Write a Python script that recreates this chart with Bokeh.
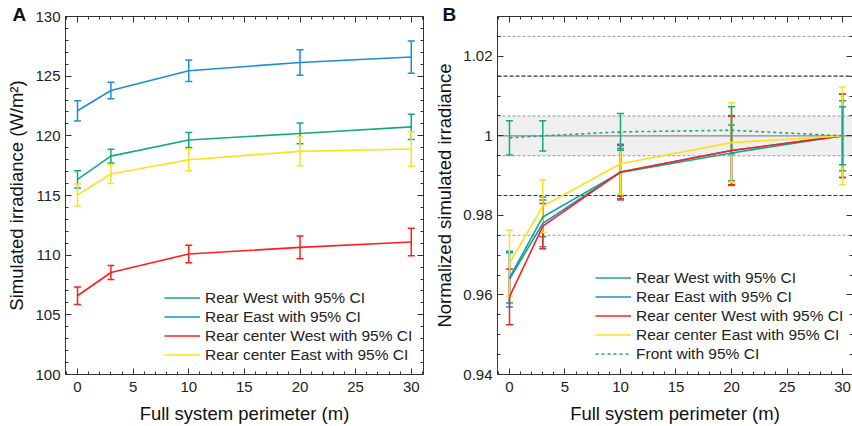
from bokeh.plotting import figure
from bokeh.models import (Range1d, LinearAxis, SingleIntervalTicker, Whisker, TeeHead,
                          ColumnDataSource, Legend, LegendItem, Span, BoxAnnotation, Title,
                          CustomJSTickFormatter)
from bokeh.layouts import row
from bokeh.embed import file_html
from bokeh.resources import INLINE

# ---------------- data ----------------
perimeter = [0, 3, 10, 20, 30]

# Panel A: simulated irradiance (W/m2) and 95% CI half-widths
rear_west = [116.35, 118.3, 119.65, 120.2, 120.75]
rear_west_ci = [0.72, 0.57, 0.62, 0.87, 1.05]
rear_east = [122.1, 123.8, 125.45, 126.15, 126.6]
rear_east_ci = [0.85, 0.7, 0.9, 1.07, 1.35]
rear_cwest = [106.6, 108.55, 110.1, 110.65, 111.1]
rear_cwest_ci = [0.73, 0.58, 0.74, 0.96, 1.15]
rear_ceast = [115.05, 116.8, 118.0, 118.7, 118.9]
rear_ceast_ci = [0.92, 0.8, 0.92, 1.2, 1.45]

# Panel B: normalized simulated irradiance and 95% CI half-widths
n_west = [0.9643, 0.9796, 0.9908, 0.9957, 1.0]
n_west_ci = [0.0063, 0.005, 0.006, 0.007, 0.0088]
n_east = [0.964, 0.978, 0.9909, 0.9963, 1.0]
n_east_ci = [0.007, 0.0059, 0.007, 0.0088, 0.0105]
n_cwest = [0.9595, 0.9773, 0.9909, 0.9963, 1.0]
n_cwest_ci = [0.007, 0.0057, 0.0067, 0.0086, 0.0105]
n_ceast = [0.968, 0.9823, 0.993, 0.9983, 1.0]
n_ceast_ci = [0.0083, 0.0066, 0.0077, 0.01, 0.0123]
n_front = [0.9995, 1.0, 1.001, 1.0014, 1.0]
n_front_ci = [0.0043, 0.0038, 0.0046, 0.0059, 0.0073]

band = [0.995, 1.005]
inner_limits = [0.985, 1.015]
outer_limits = [0.975, 1.025]
reference_level = 1.0

labels = ["Rear West with 95% CI", "Rear East with 95% CI",
          "Rear center West with 95% CI", "Rear center East with 95% CI"]
front_label = "Front with 95% CI"

FONT = "Liberation Sans"
GREEN = "#14a886"
BLUE = "#1b8fd2"
RED = "#ff1f1f"
YELLOW = "#ffe01a"
AXC = "#333333"

blank_fmt = CustomJSTickFormatter(code="return '';")


def style_axis(ax, show_labels=True, label=None):
    ax.axis_line_color = AXC
    ax.axis_line_width = 1
    ax.major_tick_in = 6
    ax.major_tick_out = 0
    ax.minor_tick_in = 3
    ax.minor_tick_out = 0
    ax.major_tick_line_color = AXC
    ax.minor_tick_line_color = AXC
    if show_labels:
        ax.major_label_text_font = FONT
        ax.major_label_text_font_size = "15px"
        ax.major_label_text_color = "#222222"
        ax.major_label_standoff = 7
        ax.axis_label = label
        ax.axis_label_text_font = FONT
        ax.axis_label_text_font_size = "18.5px"
        ax.axis_label_text_font_style = "normal"
        ax.axis_label_text_color = "#111111"
        ax.axis_label_standoff = 8
    else:
        ax.formatter = blank_fmt
        ax.major_label_text_font_size = "1px"
        ax.major_label_standoff = 0


def errbars(p, x, y, e, color):
    src = ColumnDataSource(dict(x=x, lo=[a - b for a, b in zip(y, e)],
                                hi=[a + b for a, b in zip(y, e)]))
    w = Whisker(source=src, base="x", lower="lo", upper="hi",
                line_color=color, line_width=1.5,
                upper_head=TeeHead(size=7, line_color=color, line_width=1.5),
                lower_head=TeeHead(size=7, line_color=color, line_width=1.5))
    p.add_layout(w)


def make_fig(width, xr, yr, xtick, ytick, border_left, border_right, ylabel, letter,
             letter_offset, yformatter=None):
    p = figure(width=width, height=426, output_backend="svg", toolbar_location=None,
               x_range=Range1d(*xr), y_range=Range1d(*yr),
               min_border_left=border_left, min_border_right=border_right,
               min_border_top=16, min_border_bottom=10,
               x_axis_type=None, y_axis_type=None)
    p.outline_line_color = None
    p.xgrid.visible = False
    p.ygrid.visible = False
    p.background_fill_color = "white"
    p.border_fill_color = "white"
    xb = LinearAxis(ticker=xtick)
    style_axis(xb, True, "Full system perimeter (m)")
    p.add_layout(xb, "below")
    yl = LinearAxis(ticker=ytick)
    style_axis(yl, True, ylabel)
    yl.major_label_standoff = 5
    yl.axis_label_standoff = 5
    if yformatter is not None:
        yl.formatter = yformatter
    p.add_layout(yl, "left")
    xt = LinearAxis(ticker=xtick)
    style_axis(xt, False)
    p.add_layout(xt, "above")
    yr_ax = LinearAxis(ticker=ytick)
    style_axis(yr_ax, False)
    p.add_layout(yr_ax, "right")
    t = Title(text=letter, align="left", offset=letter_offset, standoff=-17,
              text_font=FONT, text_font_size="19px", text_font_style="bold",
              text_color="#111111", text_line_height=0.4)
    p.add_layout(t, "above")
    return p, yr_ax


def make_legend(items, loc):
    lg = Legend(items=items, location=loc, padding=0, margin=0, spacing=0,
                border_line_color=None, background_fill_alpha=0,
                label_text_font=FONT, label_text_font_size="15.5px",
                label_text_color="#222222", label_height=19, glyph_height=19,
                glyph_width=36, label_standoff=5)
    return lg


# ---------------- Panel A ----------------
pa, _ = make_fig(430, (-1.08, 31.1), (100, 130),
                 SingleIntervalTicker(interval=5, num_minor_ticks=5),
                 SingleIntervalTicker(interval=5, num_minor_ticks=5),
                 65, 7, "Simulated irradiance (W/m\u00b2)", "A", -53)

series_a = [(rear_west, rear_west_ci, GREEN), (rear_east, rear_east_ci, BLUE),
            (rear_cwest, rear_cwest_ci, RED), (rear_ceast, rear_ceast_ci, YELLOW)]
for y, e, c in series_a:
    errbars(pa, perimeter, y, e, c)
items_a = []
for (y, e, c), lab in zip(series_a, labels):
    r = pa.line(perimeter, y, line_color=c, line_width=1.6)
    items_a.append(LegendItem(label=lab, renderers=[r]))
pa.add_layout(make_legend(items_a, (99, 10)))

# ---------------- Panel B ----------------
fmt = CustomJSTickFormatter(code="return parseFloat(tick.toFixed(4)).toString();")
pb, pb_right = make_fig(422, (-1.08, 30.9), (0.94, 1.03),
                        SingleIntervalTicker(interval=5, num_minor_ticks=5),
                        SingleIntervalTicker(interval=0.02, num_minor_ticks=4),
                        67, 0, "Normalized simulated irradiance", "B", -55, fmt)
pb_right.axis_line_color = None

pb.add_layout(BoxAnnotation(bottom=band[0], top=band[1], fill_color="#efefef",
                            fill_alpha=1, line_color=None, level="underlay"))
for v in band + outer_limits:
    pb.add_layout(Span(location=v, dimension="width", line_color="#9a9a9a",
                       line_width=1, line_dash="3 2", level="underlay"))
for v in inner_limits:
    pb.add_layout(Span(location=v, dimension="width", line_color="#333333",
                       line_width=1.2, line_dash="4 2", level="underlay"))
pb.add_layout(Span(location=reference_level, dimension="width", line_color="#8a8a8a",
                   line_width=1.2, level="underlay"))

series_b = [(n_west, n_west_ci, GREEN), (n_east, n_east_ci, BLUE),
            (n_cwest, n_cwest_ci, RED), (n_ceast, n_ceast_ci, YELLOW)]
for y, e, c in series_b:
    errbars(pb, perimeter, y, e, c)
errbars(pb, perimeter, n_front, n_front_ci, GREEN)
items_b = []
for (y, e, c), lab in zip(series_b, labels):
    r = pb.line(perimeter, y, line_color=c, line_width=1.6)
    items_b.append(LegendItem(label=lab, renderers=[r]))
rf = pb.line(perimeter, n_front, line_color=GREEN, line_width=1.6, line_dash="3 3")
items_b.append(LegendItem(label=front_label, renderers=[rf]))
pb.add_layout(make_legend(items_b, (98, 11)))

layout = row(pa, pb)
open("out.html", "w").write(file_html(layout, INLINE))
